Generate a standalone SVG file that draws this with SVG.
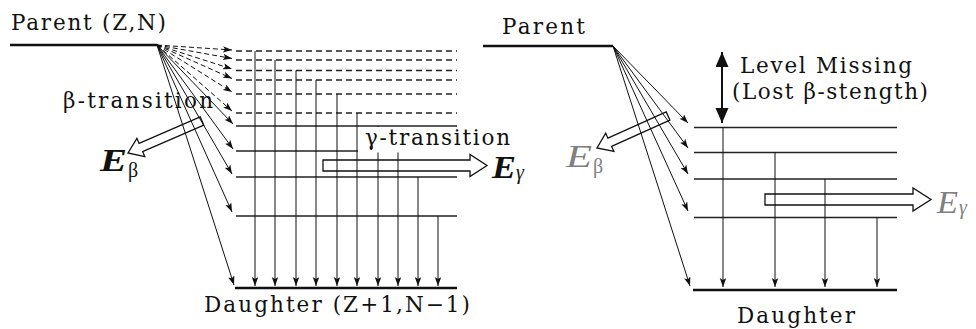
<svg xmlns="http://www.w3.org/2000/svg" width="976" height="329" viewBox="0 0 976 329">
<style>
.t{font-family:"DejaVu Serif","Liberation Serif",serif;font-size:21.5px;fill:#111}
.eb{font-family:"Liberation Serif","Times New Roman",serif;font-size:31px;font-weight:bold;font-style:italic;fill:#111}
.eg{font-family:"Liberation Serif","Times New Roman",serif;font-size:31px;font-style:italic;fill:#808080}
.sub{font-family:"Liberation Serif","Times New Roman",serif;font-size:20px;fill:#111}
.subg{font-family:"Liberation Serif","Times New Roman",serif;font-size:20px;fill:#808080}
.base{stroke:#111;stroke-width:2.4;fill:none}
.lvl{stroke:#222;stroke-width:1.3;fill:none}
.dlvl{stroke:#222;stroke-width:1.3;stroke-dasharray:6 4;fill:none}
.arr{stroke:#111;stroke-width:1;fill:none;marker-end:url(#ah)}
.darr{stroke:#111;stroke-width:1;stroke-dasharray:5 3;fill:none;marker-end:url(#ah)}
.big{fill:#fff;stroke:#111;stroke-width:1.3;stroke-linejoin:miter}
</style>
<defs>
<marker id="ah" markerUnits="userSpaceOnUse" markerWidth="10" markerHeight="7" refX="9" refY="3.25" orient="auto">
<path d="M0,0 L9,3.25 L0,6.5 L2,3.25 z" fill="#111"/>
</marker>
<marker id="dh" markerUnits="userSpaceOnUse" markerWidth="16" markerHeight="14" refX="15" refY="6.5" orient="auto-start-reverse">
<path d="M0,0 L15,6.5 L0,13 z" fill="#111"/>
</marker>
</defs>

<g id="left-parent">
<line class="base" x1="10" y1="45" x2="157" y2="45"/>
<text class="t" x="11" y="30" textLength="155" lengthAdjust="spacing">Parent (Z,N)</text>
</g>

<g id="left-levels">
<line class="dlvl" x1="236" y1="51" x2="457" y2="51"/>
<line class="dlvl" x1="236" y1="60" x2="457" y2="60"/>
<line class="dlvl" x1="236" y1="70.5" x2="457" y2="70.5"/>
<line class="dlvl" x1="236" y1="80" x2="457" y2="80"/>
<line class="dlvl" x1="236" y1="94" x2="457" y2="94"/>
<line class="dlvl" x1="236" y1="113" x2="457" y2="113"/>
<line class="lvl" x1="236" y1="126" x2="457" y2="126"/>
<line class="lvl" x1="236" y1="151" x2="457" y2="151"/>
<line class="lvl" x1="236" y1="177" x2="457" y2="177"/>
<line class="lvl" x1="236" y1="216" x2="457" y2="216"/>
</g>

<g id="left-daughter">
<line class="base" x1="235" y1="288" x2="457" y2="288" stroke-width="2.6"/>
<text class="t" x="204" y="312" textLength="266" lengthAdjust="spacing">Daughter (Z+1,N−1)</text>
</g>

<g id="left-beta-arrow">
<polygon class="big" points="203.8,125.1 142.6,151.6 144.8,156.6 128,153 136.9,138.3 139.1,143.3 200.2,116.9"/>
</g>

<g id="left-gamma-arrow">
<polygon class="big" points="323,160 470,160 470,154.5 487,165.5 470,176.5 470,171 323,171"/>
</g>

<g id="left-connectors">
<path class="darr" d="M157,45 L232,50"/>
<path class="darr" d="M157,45 L232,58.5"/>
<path class="darr" d="M157,45 L232,69"/>
<path class="darr" d="M157,45 L232,78.5"/>
<path class="darr" d="M157,45 L232,92"/>
<path class="darr" d="M157,45 L232,111"/>
<path class="arr" d="M157,45 L233,124"/>
<path class="arr" d="M157,45 L233,149"/>
<path class="arr" d="M157,45 L232,174"/>
<path class="arr" d="M157,45 L232,212"/>
<path class="arr" d="M157,45 L234,285"/>
<path class="arr" d="M255,51 V286"/>
<path class="arr" d="M275,60 V286"/>
<path class="arr" d="M296,70.5 V286"/>
<path class="arr" d="M316,80 V286"/>
<path class="arr" d="M337,94 V286"/>
<path class="arr" d="M357,113 V286"/>
<path class="arr" d="M378,126 V286"/>
<path class="arr" d="M398,151 V286"/>
<path class="arr" d="M418,177 V286"/>
<path class="arr" d="M438,216 V286"/>
</g>

<g id="left-labels">
<text class="t" x="63" y="108" textLength="150" lengthAdjust="spacing">β-transition</text>
<rect x="358" y="127" width="156" height="25.5" fill="#fff"/>
<text class="t" x="365" y="145" textLength="145" lengthAdjust="spacing">γ-transition</text>
<text class="eb" x="100" y="171" textLength="27" lengthAdjust="spacingAndGlyphs">E</text>
<text class="sub" x="128" y="177">β</text>
<text class="eb" x="492" y="178" textLength="24" lengthAdjust="spacingAndGlyphs">E</text>
<text class="sub" x="516" y="179" font-style="italic" font-size="23">γ</text>
</g>

<g id="right-parent">
<line class="base" x1="483" y1="46" x2="613" y2="46"/>
<text class="t" x="502" y="34" textLength="83" lengthAdjust="spacing">Parent</text>
</g>

<g id="right-levels">
<line class="lvl" x1="694" y1="127.5" x2="897" y2="127.5"/>
<line class="lvl" x1="694" y1="152.5" x2="897" y2="152.5"/>
<line class="lvl" x1="694" y1="179" x2="897" y2="179"/>
<line class="lvl" x1="694" y1="217.5" x2="897" y2="217.5"/>
</g>

<g id="right-daughter">
<line class="base" x1="693" y1="290" x2="897" y2="290" stroke-width="2.6"/>
<text class="t" x="737" y="323" textLength="118" lengthAdjust="spacing">Daughter</text>
</g>

<g id="right-beta-arrow">
<polygon class="big" points="669.9,120.1 611.6,146.4 613.9,151.4 597,148 605.7,133.1 607.9,138.2 666.2,111.9"/>
</g>

<g id="right-gamma-arrow">
<polygon class="big" points="765,194 913,194 913,188 931,199.5 913,211 913,205 765,205"/>
</g>

<g id="right-connectors">
<path class="arr" d="M613,46 L688,123"/>
<path class="arr" d="M613,46 L688,148"/>
<path class="arr" d="M613,46 L688,174"/>
<path class="arr" d="M613,46 L688,211"/>
<path class="arr" d="M613,46 L690,286"/>
<path class="arr" d="M723,127.5 V287"/>
<path class="arr" d="M775,152.5 V287"/>
<path class="arr" d="M825,179 V287"/>
<path class="arr" d="M877,217.5 V287"/>
<path d="M722,52 V123" stroke="#111" stroke-width="2" fill="none" marker-start="url(#dh)" marker-end="url(#dh)"/>
</g>

<g id="right-labels">
<text class="t" x="740" y="73" textLength="172" lengthAdjust="spacing">Level Missing</text>
<text class="t" x="732" y="99" textLength="196" lengthAdjust="spacing">(Lost β-stength)</text>
<text class="eg" x="566" y="167" textLength="26" lengthAdjust="spacingAndGlyphs">E</text>
<text class="subg" x="593" y="173">β</text>
<text class="eg" x="937" y="213" textLength="21" lengthAdjust="spacingAndGlyphs">E</text>
<text class="subg" x="959" y="214" font-style="italic" font-size="23">γ</text>
</g>
</svg>
